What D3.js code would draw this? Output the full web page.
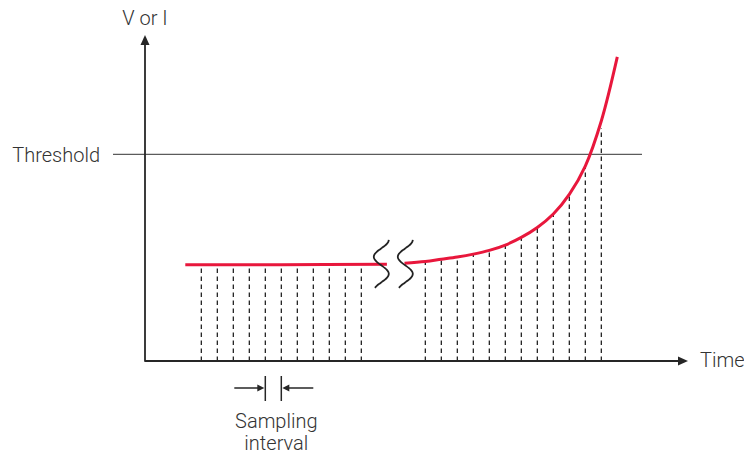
<!DOCTYPE html>
<html><head><meta charset="utf-8">
<script src="https://cdn.jsdelivr.net/npm/d3@7"></script>
<style>
body{margin:0;background:#fff}
svg{display:block}
text{font-family:Roboto,Lato,sans-serif;font-weight:300;fill:#333;font-size:20px}
</style>
</head><body>
<svg id="chart" width="744" height="454"></svg>
<script>
// ---- data (time in sampling intervals, value in % of threshold) ----
const leftSampleTimes  = [0,1,2,3,4,5,6,7,8,9,10];
const leftSampleValues = [46.6,46.6,46.6,46.6,46.6,46.6,46.6,46.6,46.6,46.6,46.6];
const rightSampleTimes  = [14,15,16,17,18,19,20,21,22,23,24,25];
const rightSampleValues = [48.1,49.2,50.3,51.7,53.5,56.1,59.8,64.6,71.1,80.6,94.3,112.5];
const leftCurveTimes  = [-1,5,11.6];
const leftCurveValues = [46.6,46.6,46.8];
const rightCurveTimes  = [12.7,14,15,16,17,18,19,20,21,22,23,24,25,26];
const rightCurveValues = [47.3,48.1,49.2,50.3,51.7,53.5,56.1,59.8,64.6,71.1,80.6,94.3,116.1,147.1];
const thresholdValue = 100;
const breakTimes = [11.25,12.75];
const breakValue = 47;
const intervalStart = 4, intervalEnd = 5;
const labels = {y:"V or I", x:"Time", threshold:"Threshold", interval:["Sampling","interval"]};

// ---- layout ----
const svg = d3.select("#chart");
const x = d3.scaleLinear().domain([0,25]).range([201.3,601.3]);
const y = d3.scaleLinear().domain([0,100]).range([361,154.3]);
const ox = 145, oy = y(0);
const ink = "#262626", red = "#e8173c";

// dashed sample lines
const samples = leftSampleTimes.map((t,i)=>[t,leftSampleValues[i]])
  .concat(rightSampleTimes.map((t,i)=>[t,rightSampleValues[i]]));
svg.append("g").selectAll("line").data(samples).join("line")
  .attr("x1",d=>x(d[0])).attr("x2",d=>x(d[0]))
  .attr("y1",oy).attr("y2",d=>y(d[1]))
  .attr("stroke","#111").attr("stroke-width",1.2)
  .attr("stroke-dasharray","4.5,3.5");

// threshold
svg.append("line").attr("x1",113).attr("x2",642)
  .attr("y1",y(thresholdValue)).attr("y2",y(thresholdValue))
  .attr("stroke","#333").attr("stroke-width",1);
svg.append("text").attr("x",100).attr("y",y(thresholdValue)+8)
  .attr("text-anchor","end").text(labels.threshold);

// axes
svg.append("line").attr("x1",ox).attr("x2",ox).attr("y1",oy+0.8).attr("y2",44)
  .attr("stroke",ink).attr("stroke-width",1.8);
svg.append("path").attr("d",`M${ox},35 L${ox-4.5},45 L${ox+4.5},45 Z`).attr("fill",ink);
svg.append("line").attr("x1",ox).attr("x2",679).attr("y1",oy).attr("y2",oy)
  .attr("stroke",ink).attr("stroke-width",1.8);
svg.append("path").attr("d",`M688,${oy} L678,${oy-4.5} L678,${oy+4.5} Z`).attr("fill",ink);
svg.append("text").attr("x",ox).attr("y",25).attr("text-anchor","middle").text(labels.y);
svg.append("text").attr("x",700).attr("y",oy+6).text(labels.x);

// curve
const line = d3.line().x(d=>x(d[0])).y(d=>y(d[1])).curve(d3.curveCatmullRom.alpha(0.5));
svg.append("path").datum(leftCurveTimes.map((t,i)=>[t,leftCurveValues[i]]))
  .attr("d",line).attr("fill","none").attr("stroke",red).attr("stroke-width",3);
svg.append("path").datum(rightCurveTimes.map((t,i)=>[t,rightCurveValues[i]]))
  .attr("d",line).attr("fill","none").attr("stroke",red).attr("stroke-width",3);

// break marks
const sShape = d3.range(0,49,2).map(v=>[7.5*Math.cos(Math.PI*v/17), v-24]);
const sLine = d3.line().curve(d3.curveCatmullRom);
breakTimes.forEach(bt=>{
  svg.append("path").attr("d",sLine(sShape))
    .attr("transform",`translate(${x(bt)},${y(breakValue)})`)
    .attr("fill","none").attr("stroke","#222").attr("stroke-width",1.8);
});

// sampling interval marker
const ay = 388, xa = x(intervalStart), xb = x(intervalEnd);
[xa,xb].forEach(v=>svg.append("line").attr("x1",v).attr("x2",v).attr("y1",ay-12).attr("y2",ay+13)
  .attr("stroke",ink).attr("stroke-width",1.5));
svg.append("line").attr("x1",xa-31).attr("x2",xa-6).attr("y1",ay).attr("y2",ay).attr("stroke",ink).attr("stroke-width",1.5);
svg.append("path").attr("d",`M${xa-1},${ay} L${xa-8},${ay-3.5} L${xa-8},${ay+3.5} Z`).attr("fill",ink);
svg.append("line").attr("x1",xb+6).attr("x2",xb+32).attr("y1",ay).attr("y2",ay).attr("stroke",ink).attr("stroke-width",1.5);
svg.append("path").attr("d",`M${xb+1},${ay} L${xb+8},${ay-3.5} L${xb+8},${ay+3.5} Z`).attr("fill",ink);
const cx = x((intervalStart+intervalEnd)/2)+3;
svg.append("text").attr("x",cx).attr("y",428).attr("text-anchor","middle").text(labels.interval[0]);
svg.append("text").attr("x",cx).attr("y",450).attr("text-anchor","middle").text(labels.interval[1]);
</script>
</body></html>
